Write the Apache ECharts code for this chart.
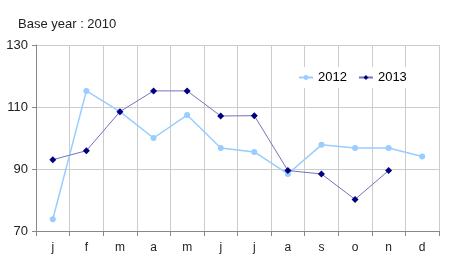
<!DOCTYPE html>
<html><head><meta charset="utf-8">
<script src="https://cdn.jsdelivr.net/npm/echarts@6/dist/echarts.min.js"></script>
<style>html,body{margin:0;padding:0;background:#fff}#c{width:450px;height:279px}</style>
</head><body><div id="c"></div>
<script>
var categories = ['j','f','m','a','m','j','j','a','s','o','n','d'];
var s2012 = [73.8, 115.2, 108.5, 100, 107.4, 96.8, 95.5, 88.4, 97.8, 96.8, 96.8, 94];
var s2013 = [93, 95.9, 108.5, 115.2, 115.2, 107.1, 107.2, 89.5, 88.4, 80.2, 89.5, null];
var yTicks = [70, 90, 110, 130];

var chart = echarts.init(document.getElementById('c'), null, {renderer:'canvas'});
chart.setOption({
  animation: false,
  backgroundColor: '#fff',
  title: {text: 'Base year : 2010', left: 13, top: 13,
    textStyle: {fontFamily: 'Arial, Liberation Sans', fontSize: 13, fontWeight: 'normal', color: '#222'}},
  legend: {
    top: 67, left: 292, backgroundColor: '#fff', padding: [4, 6, 4, 6],
    itemWidth: 14, itemHeight: 6, itemGap: 11,
    textStyle: {fontFamily: 'Arial, Liberation Sans', fontSize: 13, color: '#000'},
    data: ['2012', '2013']
  },
  grid: {left: 36, right: 11, top: 45, bottom: 48},
  xAxis: {
    type: 'category', data: categories, boundaryGap: true,
    axisLine: {lineStyle: {color: '#888'}},
    axisTick: {show: true, length: 5, lineStyle: {color: '#888'}},
    axisLabel: {fontFamily: 'Arial, Liberation Sans', fontSize: 12, color: '#222', margin: 11},
    splitLine: {show: true, lineStyle: {color: '#ccc'}}
  },
  yAxis: {
    type: 'value', min: yTicks[0], max: yTicks[yTicks.length-1], interval: 20,
    axisLine: {show: true, lineStyle: {color: '#888'}},
    axisTick: {show: true, length: 4, lineStyle: {color: '#888'}},
    axisLabel: {fontFamily: 'Arial, Liberation Sans', fontSize: 13, color: '#222', margin: 8},
    splitLine: {show: true, lineStyle: {color: '#ccc'}}
  },
  series: [
    {name: '2012', type: 'line', data: s2012, symbol: 'circle', symbolSize: 6,
      itemStyle: {color: '#99ccff'}, lineStyle: {color: '#99ccff', width: 1.5}},
    {name: '2013', type: 'line', data: s2013, symbol: 'diamond', symbolSize: 7,
      itemStyle: {color: '#000080'}, lineStyle: {color: '#7373c0', width: 1}}
  ]
});
</script></body></html>
